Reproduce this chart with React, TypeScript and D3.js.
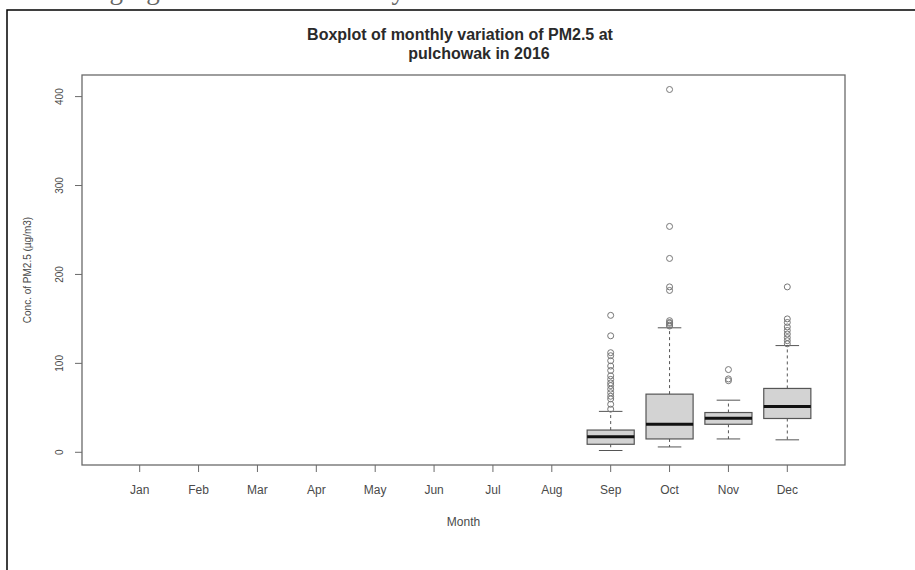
import * as d3 from 'd3';

const months = ['Jan', 'Feb', 'Mar', 'Apr', 'May', 'Jun', 'Jul', 'Aug', 'Sep', 'Oct', 'Nov', 'Dec'];
const yTicks = [0, 100, 200, 300, 400];

// boxplot stats, only Sep..Dec have data
const boxMonths = ['Sep', 'Oct', 'Nov', 'Dec'];
const lowWhisker = [2, 6, 15, 14];
const q1 = [9, 15, 31.5, 38];
const median = [17.5, 31.5, 38.3, 51.5];
const q3 = [25, 65.4, 44.7, 71.8];
const highWhisker = [46, 140, 58.6, 120];
const outliers = [
    [154, 131, 112, 108.6, 103, 97, 92, 86, 82, 78, 75, 71, 67, 63, 60, 54, 48.5],
    [408, 254, 218, 186, 182, 148, 146, 145, 143, 142],
    [93, 82.5, 80.5],
    [186, 150, 146, 141, 137, 133, 129, 125.5, 122],
];

const W = 915;
const H = 570;
const plot = { left: 82, right: 845, top: 75, bottom: 465 };

export default function App() {
    const x = d3.scaleLinear().domain([0.02, 12.98]).range([plot.left, plot.right]);
    const y = d3.scaleLinear().domain([-14.3, 424.3]).range([plot.bottom, plot.top]);
    const unit = x(1) - x(0);
    const boxW = unit * 0.8;
    const capW = boxW * 0.5;
    const axisCol = '#6a6a6a';
    const textCol = '#4a4a4a';

    return (
        <svg
            width={W}
            height={H}
            viewBox={`0 0 ${W} ${H}`}
            style={{ position: 'absolute', left: 0, top: 0, background: '#fff' }}
            fontFamily="Liberation Sans, Arial, sans-serif"
        >
            {/* cut-off line of the surrounding document */}
            <text x={18} y={-1.5} fontFamily="Liberation Serif, serif" fontSize={27} fill="#666">
                following figure shows the monthly variation of PM2.5 concentration at the station
            </text>
            <rect x={7} y={10} width={W} height={H} fill="none" stroke="#000" strokeWidth={1.5} />

            <text x={460} y={40} textAnchor="middle" fontWeight="bold" fontSize={16} fill="#2a2a2a">
                Boxplot of monthly variation of PM2.5 at
            </text>
            <text x={479} y={59} textAnchor="middle" fontWeight="bold" fontSize={16} fill="#2a2a2a">
                pulchowak in 2016
            </text>

            <rect
                x={plot.left}
                y={plot.top}
                width={plot.right - plot.left}
                height={plot.bottom - plot.top}
                fill="none"
                stroke={axisCol}
                strokeWidth={1.3}
            />

            {yTicks.map((t) => (
                <g key={t}>
                    <line x1={plot.left - 7} x2={plot.left} y1={y(t)} y2={y(t)} stroke={axisCol} />
                    <text
                        transform={`translate(${plot.left - 19},${y(t)}) rotate(-90)`}
                        textAnchor="middle"
                        fontSize={10}
                        fill={textCol}
                    >
                        {t}
                    </text>
                </g>
            ))}
            <text
                transform={`translate(31,${(plot.top + plot.bottom) / 2}) rotate(-90)`}
                textAnchor="middle"
                fontSize={10}
                fill={textCol}
            >
                Conc. of PM2.5 (µg/m3)
            </text>

            {months.map((m, i) => (
                <g key={m}>
                    <line x1={x(i + 1)} x2={x(i + 1)} y1={plot.bottom} y2={plot.bottom + 7} stroke={axisCol} />
                    <text x={x(i + 1)} y={plot.bottom + 29} textAnchor="middle" fontSize={12} fill={textCol}>
                        {m}
                    </text>
                </g>
            ))}
            <text x={(plot.left + plot.right) / 2} y={plot.bottom + 61} textAnchor="middle" fontSize={12} fill={textCol}>
                Month
            </text>

            {boxMonths.map((m, i) => {
                const cx = x(months.indexOf(m) + 1);
                return (
                    <g key={m}>
                        <line x1={cx} x2={cx} y1={y(q3[i])} y2={y(highWhisker[i])} stroke="#555" strokeDasharray="3,3" />
                        <line x1={cx} x2={cx} y1={y(q1[i])} y2={y(lowWhisker[i])} stroke="#555" strokeDasharray="3,3" />
                        <line x1={cx - capW / 2} x2={cx + capW / 2} y1={y(highWhisker[i])} y2={y(highWhisker[i])} stroke="#555" />
                        <line x1={cx - capW / 2} x2={cx + capW / 2} y1={y(lowWhisker[i])} y2={y(lowWhisker[i])} stroke="#555" />
                        <rect
                            x={cx - boxW / 2}
                            y={y(q3[i])}
                            width={boxW}
                            height={y(q1[i]) - y(q3[i])}
                            fill="#d3d3d3"
                            stroke="#555"
                            strokeWidth={1.2}
                        />
                        <line x1={cx - boxW / 2} x2={cx + boxW / 2} y1={y(median[i])} y2={y(median[i])} stroke="#111" strokeWidth={3} />
                        {outliers[i].map((v, j) => (
                            <circle key={j} cx={cx} cy={y(v)} r={3} fill="none" stroke="#777" strokeWidth={1} />
                        ))}
                    </g>
                );
            })}
        </svg>
    );
}
